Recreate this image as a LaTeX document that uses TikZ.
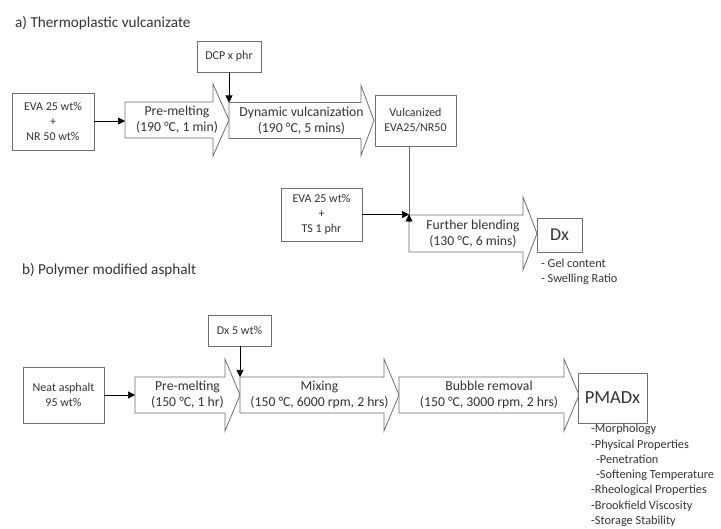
\documentclass[tikz,border=0pt]{standalone}
\usepackage{fontspec}
\setmainfont{Carlito}
\usetikzlibrary{arrows.meta}
\definecolor{txt}{HTML}{333333}
\definecolor{boxgray}{HTML}{6E6E6E}
\newcommand\blockarrowshape[6]{%
  \draw[blk] (#1,#4-#5) -- (#2,#4-#5) -- (#2,#4-#6) -- (#3,#4) -- (#2,#4+#6) -- (#2,#4+#5) -- (#1,#4+#5) -- cycle;}
\begin{document}
\begin{tikzpicture}[x=1pt,y=-1pt,
  box/.style={draw=boxgray, line width=0.8pt, fill=white, inner sep=0pt, text=txt, align=center,
    font=\fontsize{12}{15}\selectfont},
  blk/.style={draw=boxgray, line width=0.8pt, fill=white},
  lbl/.style={text=txt, align=center, inner sep=0pt, font=\fontsize{13.7}{16}\selectfont},
  ttl/.style={text=txt, anchor=west, inner sep=0pt, font=\fontsize{15.2}{17}\selectfont},
  lst/.style={text=txt, anchor=north west, align=left, inner sep=0pt, font=\fontsize{12.3}{15.3}\selectfont},
  con/.style={-{Triangle[length=7pt,width=7pt]}, line width=0.7pt, black}
]
\useasboundingbox (0,0) rectangle (721,529);

% ---------- a) ----------
\node[ttl] (ta) at (15,23) {a) Thermoplastic vulcanizate};

\node[box, minimum width=82pt, minimum height=57pt] (eva) at (53,121.5) {EVA 25 wt\%\\+\\NR 50 wt\%};
\node[box, minimum width=64pt, minimum height=31pt] (dcp) at (229,56.5) {DCP x phr};

\blockarrowshape{125}{213}{229}{120}{18}{36}
\node[lbl] (pm1) at (177,120) {Pre-melting\\(190 °C, 1 min)};
\blockarrowshape{229}{361}{374}{120.5}{18}{35}
\node[lbl] (dyn) at (301.5,120.5) {Dynamic vulcanization\\(190 °C, 5 mins)};
\coordinate (pm1in) at (125,121);
\coordinate (dynin) at (229,102.5);

\node[box, minimum width=81pt, minimum height=51pt] (vul) at (415.5,120.5) {Vulcanized\\EVA25/NR50};

\node[box, minimum width=81pt, minimum height=53pt] (evats) at (321.5,214.5) {EVA 25 wt\%\\+\\TS 1 phr};

\blockarrowshape{409}{523}{537}{233.5}{18.5}{36.5}
\node[lbl] (fb) at (473,233.5) {Further blending\\(130 °C, 6 mins)};
\coordinate (fbin) at (409,214.5);

\node[box, minimum width=45pt, minimum height=34pt, font=\fontsize{18}{20}\selectfont] (dx) at (559.5,235) {Dx};
\node[lst] (dxl) at (541,258.5) {- Gel content\\- Swelling Ratio};

\draw[con] (eva.east |- pm1in) -- (pm1in);
\draw[con] (dcp.south) -- (dynin);
\draw[con] (evats.east |- fbin) -- (fbin);
\draw[line width=0.7pt, boxgray] (vul.south -| fbin) -- ([yshift=-7pt]fbin);
\draw[con] ([yshift=-8pt]fbin) -- (fbin);

% ---------- b) ----------
\node[ttl] (tb) at (22,270) {b) Polymer modified asphalt};

\node[box, minimum width=63pt, minimum height=31pt] (dx5) at (239.5,330.5) {Dx 5 wt\%};
\node[box, minimum width=81pt, minimum height=56pt] (neat) at (63.5,395) {Neat asphalt\\95 wt\%};

\blockarrowshape{135}{225}{240}{395}{18}{36}
\node[lbl] (pm2) at (187.5,395) {Pre-melting\\(150 °C, 1 hr)};
\blockarrowshape{240}{384}{399}{395}{18}{36}
\node[lbl] (mix) at (319.5,395) {Mixing\\(150 °C, 6000 rpm, 2 hrs)};
\blockarrowshape{399}{564}{579}{395}{18}{36}
\node[lbl] (bub) at (489,395) {Bubble removal\\(150 °C, 3000 rpm, 2 hrs)};
\coordinate (pm2in) at (135,395);
\coordinate (mixin) at (240,377);

\node[box, minimum width=69pt, minimum height=50pt, font=\fontsize{18.5}{21}\selectfont] (pmad) at (612.5,398) {PMADx};
\node[lst] (pmadl) at (591,424) {-Morphology\\-Physical Properties\\\hspace*{5pt}-Penetration\\\hspace*{5pt}-Softening Temperature\\-Rheological Properties\\-Brookfield Viscosity\\-Storage Stability};

\draw[con] (neat.east |- pm2in) -- (pm2in);
\draw[con] (dx5.south -| mixin) -- (mixin);
\end{tikzpicture}
\end{document}
